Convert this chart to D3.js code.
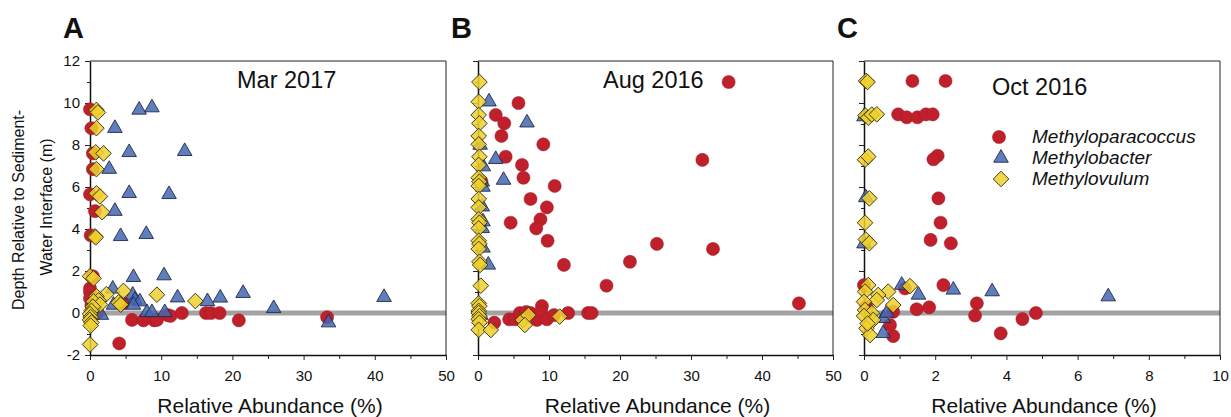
<!DOCTYPE html>
<html>
<head>
<meta charset="utf-8">
<script src="https://cdn.jsdelivr.net/npm/d3@7"></script>
<style>
  html, body { margin: 0; padding: 0; background: #fff; }
  svg { display: block; font-family: "Liberation Sans", Arial, sans-serif; }
</style>
</head>
<body>
<svg id="chart" width="1231" height="417"></svg>
<script>
// ---------------- DATA ----------------
const panelLetters = ["A", "B", "C"];
const panelTitles = ["Mar 2017", "Aug 2016", "Oct 2016"];
const xMaxValues = [50, 50, 10];
const xMajorTicksA = [0, 10, 20, 30, 40, 50];
const xMajorTicksC = [0, 2, 4, 6, 8, 10];
const yMajorTicks = [-2, 0, 2, 4, 6, 8, 10, 12];
const seriesNames = ["Methyloparacoccus", "Methylobacter", "Methylovulum"];
const yAxisLabelLines = ["Depth  Relative to Sediment-", "Water Interface (m)"];
const xAxisLabel = "Relative Abundance (%)";

// Panel A  (Mar 2017)  [relative abundance %, depth m]
const marParacoccus = [[0,9.7],[0.2,8.8],[0.4,7.6],[0.4,6.85],[0,5.65],[0.7,4.85],[0.1,3.7],[0.4,1.75],[0,1.17],[0,1.0],[0,0.7],[0.2,0.38],[0.3,0.1],[1.0,0],[4.7,0.46],[5.9,-0.33],[7.5,-0.35],[9.0,-0.35],[9.4,-0.33],[10.9,-0.1],[11.3,-0.14],[12.9,0],[16.3,0],[17.0,0],[18.2,0],[20.9,-0.35],[33.3,-0.2],[4.1,-1.45]];
const marBacter = [[6.9,9.67],[8.7,9.78],[3.5,8.8],[5.5,7.65],[13.3,7.7],[2.7,6.85],[5.5,5.7],[11.1,5.65],[3.5,4.85],[4.3,3.65],[7.9,3.75],[6.1,1.7],[10.4,1.78],[3.2,1.15],[6.0,0.86],[6.3,0.62],[7.0,0.54],[6.1,0.38],[3.3,0.38],[12.3,0.73],[16.5,0.55],[18.3,0.72],[21.5,0.94],[25.8,0.22],[41.3,0.75],[8.0,0.03],[8.7,0.03],[10.5,0.03],[1.6,-0.1],[33.5,-0.46]];
const marOvulum = [[0.9,9.67],[1.1,9.55],[0.9,8.8],[0.8,7.65],[1.9,7.6],[0.9,6.85],[0.9,5.7],[1.4,5.55],[1.7,4.8],[0.7,3.65],[0.8,3.6],[0,1.75],[0.5,1.65],[2.3,0.9],[4.7,1.05],[4.0,0.5],[4.3,0.4],[9.4,0.87],[14.8,0.57],[0.9,0.8],[1.2,0.6],[0.5,0.55],[1.4,0.4],[0.4,0.3],[0.2,0.1],[0,-0.05],[0.1,-0.2],[0,-0.33],[0.2,-0.45],[0.1,-0.6],[0,-1.5]];

// Panel B  (Aug 2016)
const augParacoccus = [[35.3,11.0],[5.7,10.0],[2.5,9.43],[3.7,9.03],[3.3,8.43],[9.2,8.03],[3.9,7.44],[6.2,7.05],[31.6,7.29],[6.4,6.44],[0.5,6.25],[10.8,6.05],[7.4,5.43],[9.7,5.03],[8.8,4.46],[4.6,4.3],[8.2,4.03],[9.8,3.44],[25.2,3.29],[33.1,3.05],[12.1,2.29],[21.4,2.44],[18.1,1.3],[45.2,0.46],[9.0,0.33],[2.3,-0.46],[4.4,-0.3],[5.2,-0.3],[5.9,0],[6.8,0.05],[7.4,0],[8.3,-0.33],[8.9,0.05],[9.7,-0.3],[10.7,-0.1],[12.7,0],[15.5,0],[16.0,0]];
const augBacter = [[1.55,10.06],[6.9,9.06],[2.5,7.32],[3.6,6.33],[0.6,6.25],[0.3,8.0],[0.75,6.97],[0.7,6.0],[0.6,5.06],[0.7,4.35],[0.6,4.03],[0.7,3.1],[1.45,2.29],[0.4,-0.1]];
const augOvulum = [[0.2,11.0],[0.1,10.06],[0.1,9.43],[0.2,9.03],[0.1,8.43],[0.1,8.03],[0.2,7.44],[0.1,7.05],[0.1,6.44],[0.2,6.25],[0.1,6.05],[0.1,5.43],[0.1,5.03],[0.1,4.46],[0.2,4.3],[0.1,4.03],[0.1,3.44],[0.2,3.29],[0.1,3.05],[0.2,2.44],[0.3,2.29],[0.4,1.3],[0.1,0.46],[0.2,0.33],[0.1,0.1],[0.1,0],[0.2,-0.15],[0.1,-0.3],[0.2,-0.46],[0.1,-0.8],[1.8,-0.81],[6.3,-0.33],[7.1,-0.1],[6.6,-0.57],[11.5,-0.17]];

// Panel C  (Oct 2016)
const octParacoccus = [[1.36,11.05],[2.29,11.05],[0.96,9.46],[1.2,9.32],[1.5,9.32],[1.74,9.46],[1.93,9.46],[2.07,7.49],[1.95,7.32],[2.09,5.46],[2.15,4.3],[1.87,3.48],[2.44,3.32],[2.23,1.33],[1.15,1.17],[0,1.33],[3.17,0.46],[1.83,0.27],[1.48,0.18],[3.12,-0.12],[4.83,0],[4.45,-0.29],[3.84,-0.97],[0.82,-1.1],[0.73,-0.57],[0.82,0.06],[0.07,0.3]];
const octBacter = [[1.06,1.33],[1.53,0.86],[2.51,1.1],[3.6,1.02],[6.86,0.78],[0.54,-0.25],[0.64,0],[0.54,-0.97],[0,9.35],[0.05,5.5],[0,3.3]];
const octOvulum = [[0.06,11.05],[0.1,11.0],[0.04,9.4],[0.12,9.3],[0.22,9.45],[0.36,9.46],[0.03,7.3],[0.12,7.45],[0.15,5.46],[0.03,4.3],[0.05,3.5],[0.15,3.32],[0.12,1.33],[0.03,1.02],[1.29,1.28],[0.68,1.02],[0.82,0.38],[0.4,0.86],[0.36,0.62],[0,0.54],[0.03,0.14],[0.22,0],[0,-0.14],[0.26,-0.33],[0.07,-0.73],[0.17,-1.05],[0.1,-0.5]];

const panelData = [
  [marParacoccus, marBacter, marOvulum],
  [augParacoccus, augBacter, augOvulum],
  [octParacoccus, octBacter, octOvulum]
];

// ---------------- STYLE / LAYOUT ----------------
const panelX = [[90, 446], [478, 833], [864, 1220]];
const plotTop = 61, plotBottom = 355;
const colors = ["#c0202c", "#4466b0", "#efd02e"];
const opac = [1, 0.85, 0.85];
const symbolTypes = [d3.symbolCircle, d3.symbolTriangle, d3.symbolSquare];
const symbolSizes = [135, 92, 122];
const symbolRot = [0, 0, 45];
const strokeCols = ["#9a1822", "#1e2a4a", "#3a3210"];
const strokeW = [0.5, 0.9, 0.9];

const svg = d3.select("#chart");
const sym = i => d3.symbol().type(symbolTypes[i]).size(symbolSizes[i])();
const intFmt = d => String(d);   // plain hyphen-minus like the original

panelData.forEach((series, p) => {
  const [x0, x1] = panelX[p];
  const xMax = xMaxValues[p];
  const x = d3.scaleLinear().domain([0, xMax]).range([x0, x1]);
  const y = d3.scaleLinear().domain([-2, 12]).range([plotBottom, plotTop]);
  const g = svg.append("g");

  // zero reference band
  g.append("line")
    .attr("x1", x(0)).attr("x2", x(xMax))
    .attr("y1", y(0)).attr("y2", y(0))
    .attr("stroke", "#a3a3a3").attr("stroke-width", 5);

  // frame (top and right)
  g.append("path")
    .attr("d", `M${x(0)},${y(12)}H${x(xMax)}V${y(-2)}`)
    .attr("fill", "none").attr("stroke", "#222").attr("stroke-width", 1);

  // x axis
  const majors = xMax === 50 ? xMajorTicksA : xMajorTicksC;
  const step = majors[1] - majors[0];
  const minors = d3.range(step / 2, xMax, step);
  g.append("g").attr("transform", `translate(0,${plotBottom})`)
    .call(d3.axisBottom(x).tickValues(majors).tickSize(5).tickSizeOuter(0).tickPadding(10).tickFormat(intFmt));
  g.append("g").attr("transform", `translate(0,${plotBottom})`)
    .call(d3.axisBottom(x).tickValues(minors).tickSize(4).tickSizeOuter(0).tickFormat(""))
    .select(".domain").remove();

  // y axis
  const yMinors = d3.range(-1, 12, 2);
  const yAxis = g.append("g").attr("transform", `translate(${x0},0)`)
    .call(d3.axisLeft(y).tickValues(yMajorTicks).tickSize(5).tickSizeOuter(0).tickPadding(4)
      .tickFormat(p === 0 ? intFmt : ""));
  g.append("g").attr("transform", `translate(${x0},0)`)
    .call(d3.axisLeft(y).tickValues(yMinors).tickSize(3).tickSizeOuter(0).tickFormat(""))
    .select(".domain").remove();

  g.selectAll(".domain").attr("stroke", "#111").attr("stroke-width", 1.5);
  g.selectAll(".tick line").attr("stroke", "#222");
  g.selectAll(".tick text").attr("font-size", 15).attr("fill", "#111")
    .attr("font-family", "Liberation Sans, Arial, sans-serif");
  yAxis.selectAll(".tick text").attr("dx", "-1");

  // x label
  g.append("text")
    .attr("x", (x0 + x1) / 2 + 2).attr("y", 413)
    .attr("text-anchor", "middle").attr("font-size", 21).attr("fill", "#111")
    .text(xAxisLabel);

  // panel letter
  g.append("text")
    .attr("x", x0 - 27).attr("y", 38)
    .attr("font-size", 29).attr("font-weight", "bold").attr("fill", "#111")
    .text(panelLetters[p]);

  // title
  const titlePos = [[237, 88], [603, 88], [992, 95]];
  g.append("text")
    .attr("x", titlePos[p][0]).attr("y", titlePos[p][1])
    .attr("font-size", 23.5).attr("fill", "#111")
    .text(panelTitles[p]);

  // markers
  series.forEach((pts, s) => {
    g.append("g").selectAll("path").data(pts).join("path")
      .attr("d", sym(s))
      .attr("transform", d => `translate(${x(d[0])},${y(d[1])}) rotate(${symbolRot[s]})`)
      .attr("fill", colors[s]).attr("fill-opacity", opac[s])
      .attr("stroke", strokeCols[s]).attr("stroke-width", strokeW[s]);
  });
});

// y axis label
yAxisLabelLines.forEach((t, i) => {
  svg.append("text")
    .attr("transform", `translate(${i === 0 ? 24 : 52},${i === 0 ? 210 : 207}) rotate(-90)`)
    .attr("text-anchor", "middle").attr("font-size", 16).attr("fill", "#111")
    .text(t);
});

// legend (panel C)
const legendX = 999, legendTextX = 1032, legendY = [137, 158, 179];
seriesNames.forEach((name, s) => {
  svg.append("path")
    .attr("d", sym(s))
    .attr("transform", `translate(${legendX + (s ? 2 : 0)},${legendY[s]}) rotate(${symbolRot[s]})`)
    .attr("fill", colors[s]).attr("fill-opacity", opac[s])
    .attr("stroke", strokeCols[s]).attr("stroke-width", strokeW[s]);
  svg.append("text")
    .attr("x", legendTextX).attr("y", legendY[s] + 6)
    .attr("font-size", 19).attr("font-style", "italic").attr("fill", "#111")
    .text(name);
});
</script>
</body>
</html>
